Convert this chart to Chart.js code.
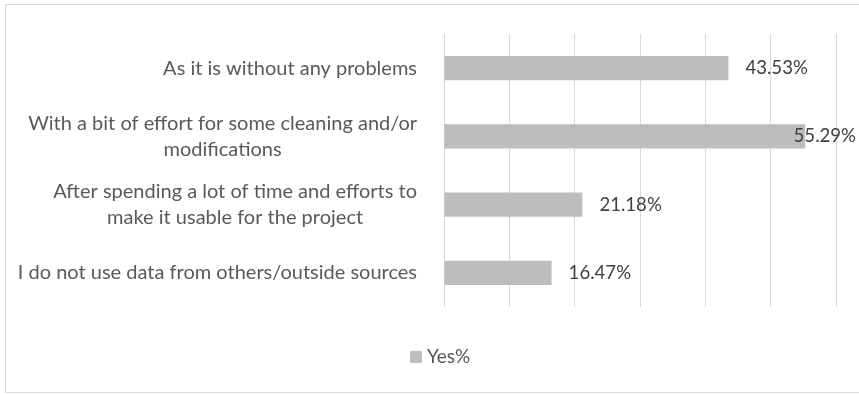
<!DOCTYPE html>
<html lang="en">

<head>
    <meta charset="UTF-8">
    <meta name="viewport" content="width=device-width, initial-scale=1.0">
    <script src="https://cdn.jsdelivr.net/npm/chart.js"></script>
    <title>Yes%</title>
    <style>
        body {
            margin: 0;
            background: #ffffff;
        }

        .grafico {
            width: 859px;
            height: 394px;
        }
    </style>
</head>

<body>
    <div class="grafico">
        <canvas id="myChart" width="859" height="394"></canvas>
    </div>
</body>

</html>
<script>
    // categories (each one is a list of lines, as in the original)
    var categorias = [
        ['As it is without any problems'],
        ['With a bit of effort for some cleaning and/or', 'modifications'],
        ['After spending a lot of time and efforts to', 'make it usable for the project'],
        ['I do not use data from others/outside sources']
    ];

    // series values (%)
    var valoresSim = [43.53, 55.29, 21.18, 16.47];

    // x axis ticks (hidden, only the gridlines show)
    var ticksX = [0, 10, 20, 30, 40, 50, 60];

    var nomeSerie = 'Yes%';

    var fonte = 'Lato';
    var corBarra = '#bdbdbd';
    var corTexto = '#595959';
    var corRotulo = '#404040';

    // moldura cinza em volta do grafico
    const moldura = {
        id: 'moldura',
        beforeDraw(chart) {
            const ctx = chart.ctx;
            ctx.save();
            ctx.strokeStyle = '#d9d9d9';
            ctx.lineWidth = 1;
            ctx.strokeRect(5.5, 4.5, 900, 388);
            ctx.restore();
        }
    };

    // category labels, lines centered inside a right aligned block
    const rotulosCategorias = {
        id: 'rotulosCategorias',
        afterDraw(chart) {
            const ctx = chart.ctx;
            const escalaY = chart.scales.y;
            const direita = 417;
            const alturaLinha = 26.5;
            ctx.save();
            ctx.font = '20px ' + fonte;
            ctx.fillStyle = corTexto;
            ctx.textBaseline = 'middle';
            ctx.textAlign = 'center';
            categorias.forEach(function (linhas, i) {
                let largura = 0;
                linhas.forEach(function (l) {
                    largura = Math.max(largura, ctx.measureText(l).width);
                });
                const centroX = direita - largura / 2;
                const centroY = escalaY.getPixelForValue(i);
                const inicio = centroY - (linhas.length - 1) * alturaLinha / 2;
                linhas.forEach(function (l, j) {
                    ctx.fillText(l, centroX, inicio + j * alturaLinha);
                });
            });
            ctx.restore();
        }
    };

    // data labels at the end of the bars
    const rotulosDados = {
        id: 'rotulosDados',
        afterDatasetsDraw(chart) {
            const ctx = chart.ctx;
            const meta = chart.getDatasetMeta(0);
            ctx.save();
            ctx.font = '18.6px ' + fonte;
            ctx.fillStyle = corRotulo;
            ctx.textBaseline = 'middle';
            ctx.textAlign = 'left';
            meta.data.forEach(function (barra, i) {
                const texto = valoresSim[i].toFixed(2) + '%';
                const largura = ctx.measureText(texto).width;
                let x = barra.x + 17;
                if (x + largura > 856) {
                    x = 856 - largura;
                }
                ctx.fillText(texto, x, barra.y);
            });
            ctx.restore();
        }
    };

    // legend drawn by hand so it sits under the whole chart
    const legenda = {
        id: 'legenda',
        afterDraw(chart) {
            const ctx = chart.ctx;
            ctx.save();
            ctx.fillStyle = corBarra;
            ctx.fillRect(410, 351, 12, 12);
            ctx.font = '19px ' + fonte;
            ctx.fillStyle = corTexto;
            ctx.textBaseline = 'middle';
            ctx.textAlign = 'left';
            ctx.fillText(nomeSerie, 427, 357);
            ctx.restore();
        }
    };

    let dados = {
        labels: categorias,
        datasets: [{
            label: nomeSerie,
            data: valoresSim,
            backgroundColor: corBarra,
            borderWidth: 0,
            barPercentage: 0.352,
            categoryPercentage: 1
        }]
    };

    const config = {
        type: 'bar',
        data: dados,
        options: {
            indexAxis: 'y',
            responsive: false,
            animation: false,
            layout: {
                padding: { left: 444, right: 23, top: 34, bottom: 87 }
            },
            plugins: {
                legend: { display: false },
                tooltip: { enabled: false }
            },
            scales: {
                x: {
                    min: ticksX[0],
                    max: ticksX[ticksX.length - 1],
                    afterBuildTicks: function (escala) {
                        escala.ticks = ticksX.map(function (v) { return { value: v }; });
                    },
                    ticks: { display: false },
                    grid: { color: '#d9d9d9', lineWidth: 1, drawTicks: false },
                    border: { display: false }
                },
                y: {
                    display: false
                }
            }
        },
        plugins: [moldura, rotulosCategorias, rotulosDados, legenda]
    };

    let myChart = new Chart(
        document.getElementById('myChart'),
        config
    );
</script>
